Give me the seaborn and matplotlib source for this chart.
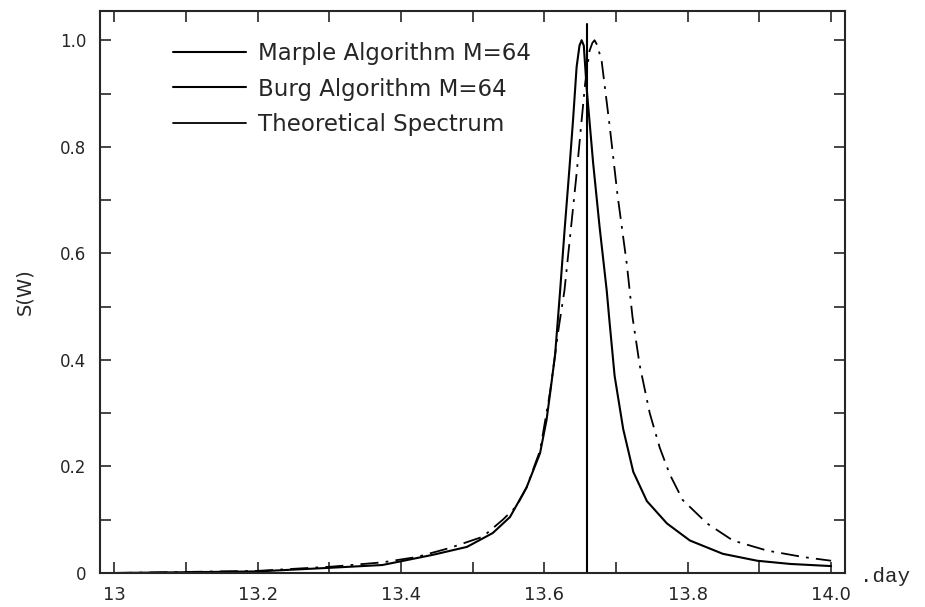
import matplotlib
matplotlib.use('Agg')
import matplotlib.pyplot as plt
import seaborn as sns
import numpy as np
from matplotlib.ticker import MultipleLocator

# values
marple_x = [13.0, 13.2, 13.304, 13.374, 13.444, 13.492, 13.528, 13.552, 13.575, 13.594,
            13.603, 13.608, 13.615, 13.622, 13.628, 13.635, 13.640, 13.645, 13.649, 13.652,
            13.655, 13.659, 13.668, 13.677, 13.687, 13.691, 13.698, 13.710, 13.724, 13.743,
            13.771, 13.803, 13.849, 13.897, 13.943, 14.0]
marple_y = [0.0, 0.003, 0.010, 0.015, 0.034, 0.049, 0.075, 0.105, 0.16, 0.225,
            0.287, 0.337, 0.41, 0.53, 0.64, 0.76, 0.85, 0.95, 0.99, 1.0,
            0.99, 0.91, 0.77, 0.65, 0.53, 0.47, 0.37, 0.27, 0.19, 0.135,
            0.093, 0.061, 0.036, 0.023, 0.017, 0.013]

burg_x = [13.66, 13.66]
burg_y = [0.0, 1.03]

theo_x = [13.0, 13.2, 13.304, 13.374, 13.422, 13.468, 13.514, 13.542, 13.561, 13.575,
          13.594, 13.608, 13.62, 13.628, 13.635, 13.645, 13.652, 13.657, 13.663, 13.667,
          13.670, 13.674, 13.680, 13.691, 13.702, 13.715, 13.723, 13.733, 13.747, 13.761,
          13.775, 13.793, 13.827, 13.863, 13.911, 13.961, 14.0]
theo_y = [0.0, 0.004, 0.012, 0.020, 0.030, 0.047, 0.068, 0.10, 0.125, 0.16,
          0.23, 0.34, 0.46, 0.53, 0.62, 0.75, 0.85, 0.92, 0.98, 0.995,
          1.0, 0.99, 0.96, 0.84, 0.71, 0.58, 0.48, 0.39, 0.30, 0.235,
          0.185, 0.137, 0.093, 0.061, 0.042, 0.030, 0.023]

x_ticks = [13.0, 13.2, 13.4, 13.6, 13.8, 14.0]
x_labels = ['13', '13.2', '13.4', '13.6', '13.8', '14.0']
y_ticks = [0, 0.2, 0.4, 0.6, 0.8, 1.0]
y_labels = ['0', '0.2', '0.4', '0.6', '0.8', '1.0']

sns.set_style('ticks')
plt.rcParams['font.family'] = ['DejaVu Sans']

fig = plt.figure(figsize=(9.25, 6.07), dpi=100)
ax = fig.add_axes([0.108, 0.056, 0.806, 0.926])

sns.lineplot(x=marple_x, y=marple_y, ax=ax, color='black', lw=1.5, sort=False,
             estimator=None, label='Marple Algorithm M=64')
sns.lineplot(x=burg_x, y=burg_y, ax=ax, color='black', lw=1.5, sort=False,
             estimator=None, label='Burg Algorithm M=64')
sns.lineplot(x=theo_x, y=theo_y, ax=ax, color='black', lw=1.3, sort=False,
             estimator=None, linestyle=(0, (10, 4, 1.5, 4)), label='Theoretical Spectrum')

ax.set_xlim(12.98, 14.02)
ax.set_ylim(0, 1.055)

ax.set_xticks(x_ticks)
ax.set_xticklabels(x_labels, fontsize=13)
ax.set_yticks(y_ticks)
ax.set_yticklabels(y_labels, fontsize=12)
ax.xaxis.set_minor_locator(MultipleLocator(0.1))
ax.yaxis.set_minor_locator(MultipleLocator(0.1))
ax.tick_params(which='both', direction='in', top=True, right=True, length=8, width=1.2)
ax.tick_params(axis='x', pad=9)
ax.tick_params(axis='y', pad=10)
for s in ax.spines.values():
    s.set_linewidth(1.5)

ax.set_xlabel('')
ax.set_ylabel('S(W)', fontsize=14, labelpad=18)
fig.text(0.930, 0.050, '.day', fontsize=15, family='Liberation Mono', va='center', ha='left')

# legend lines all drawn solid, as in the scan
leg = ax.legend(loc='upper left', bbox_to_anchor=(0.07, 0.982), frameon=False,
                fontsize=16.5, handlelength=3.2, handletextpad=0.5, labelspacing=0.56)
for h in leg.get_lines():
    h.set_linestyle('-')

fig.savefig('out.png', dpi=100)
